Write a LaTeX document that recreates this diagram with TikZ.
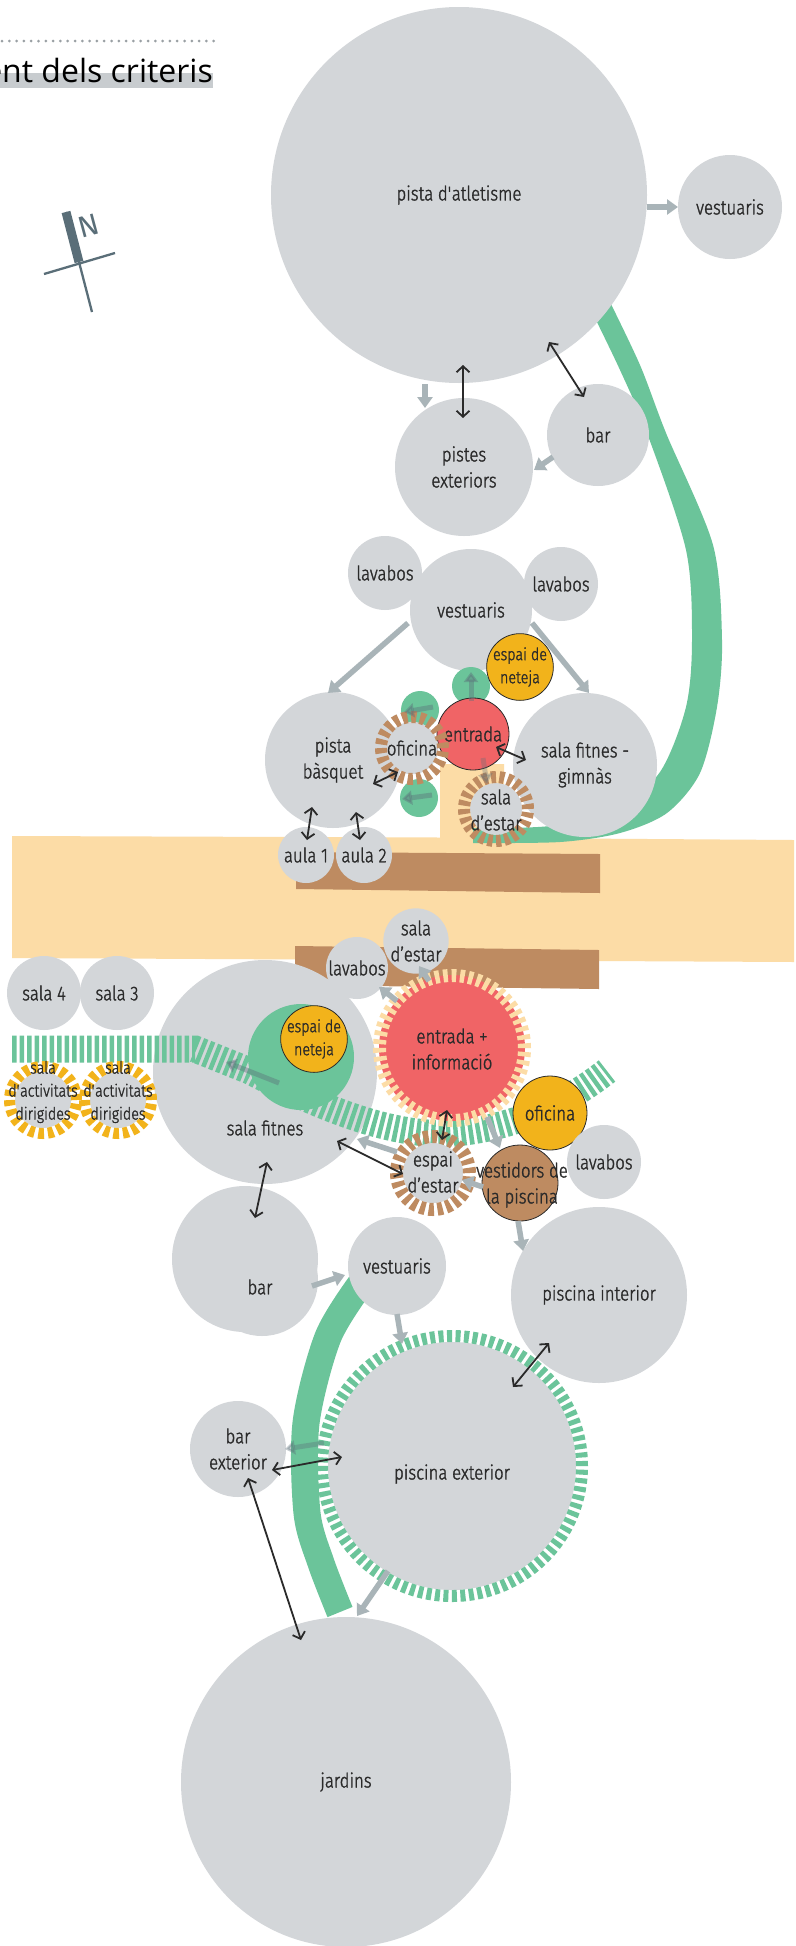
\documentclass[tikz,border=0pt]{standalone}
\usepackage{fontspec}
\setmainfont{Fira Sans Light}[FakeStretch=0.84, FakeBold=1.5]
\newfontfamily\titlefont{Open Sans}
\newfontfamily\compassfont{Fira Sans}
\usetikzlibrary{arrows.meta}
\definecolor{cgray}{HTML}{D3D6D9}
\definecolor{cgreen}{HTML}{6BC49A}
\definecolor{cred}{HTML}{F06466}
\definecolor{cyellow}{HTML}{F2B31B}
\definecolor{cbrown}{HTML}{BE8B61}
\definecolor{cband}{HTML}{FCDCA6}
\definecolor{carrow}{HTML}{A9B4B8}
\definecolor{ctext}{HTML}{2A2A2A}
\definecolor{cslate}{HTML}{5A6E78}
\definecolor{cbar}{HTML}{C8CCCF}
\definecolor{cdots}{HTML}{9AA0A4}
\newcommand\lbl{\fontsize{20}{26}\selectfont}
\newcommand\smlbl{\fontsize{17}{23}\selectfont}
\begin{document}
\begin{tikzpicture}[x=1pt,y=-1pt,
  lblsty/.style={text=ctext, align=center, font=\lbl, inner sep=0pt},
  room/.style={circle, fill=cgray, inner sep=0pt, minimum size=#1, lblsty},
  bordered/.style={circle, draw=ctext, line width=0.8pt, inner sep=0pt, minimum size=#1, lblsty},
  gcirc/.style={circle, fill=cgreen, inner sep=0pt, minimum size=38pt},
  garrow/.style={draw=carrow, line width=5.5pt, -{Triangle[length=11pt,width=15pt]}},
  darrow/.style={draw=cslate, opacity=0.4, line width=5pt, -{Triangle[length=10pt,width=14pt]}},
  barrow/.style={draw=ctext, line width=1.8pt, {Straight Barb[length=6pt,width=13pt]}-{Straight Barb[length=6pt,width=13pt]}}
]
\useasboundingbox (0,0) rectangle (795,1946);
\fill[white] (0,0) rectangle (795,1946);
\clip (0,0) rectangle (795,1946);

% ---------- title and compass ----------
\fill[cbar] (0,73) rectangle (213,88);
\node[anchor=base east, inner sep=0pt, font=\titlefont\fontsize{32}{38}\selectfont, text=black] (title) at (213,82) {ment dels criteris};
\coordinate (dotl) at (2,41); \coordinate (dotr) at (218,41);
\draw[cdots, line width=3pt, line cap=round, dash pattern=on 0pt off 7.3pt] (dotl) -- (dotr);

\coordinate (cn) at (66,212); \coordinate (cs) at (92,312); \coordinate (cb) at (79,262);
\coordinate (cw) at (44,274); \coordinate (ce) at (115,253);
\draw[cslate, line width=2.3pt] (cn) -- (cs);
\draw[cslate, line width=9pt] (cn) -- (cb);
\draw[cslate, line width=2.3pt] (cw) -- (ce);
\node[rotate=15, text=cslate, inner sep=0pt, font=\compassfont\fontsize{30}{30}\selectfont] (north) at (89,226) {N};

% ---------- circulation band ----------
\fill[cband] (12,836) -- (440,837.5) -- (440,764) -- (504,764) -- (504,838) -- (794,840) -- (794,962) -- (12,958) -- cycle;
\fill[cbrown] (296,852) -- (600,854) -- (600,893) -- (296,889) -- cycle;
\fill[cbrown] (295,946) -- (599,950) -- (599,989) -- (295,985) -- cycle;

% ---------- upper green arc ----------
\fill[cgreen] plot[smooth] coordinates {(608,298) (640,365) (666,433) (713,545) (722,640) (717,707) (700,773) (667,813) (620,833) (560,842) (473,843)}
  -- plot[smooth] coordinates {(473,828) (550,826) (615,810) (660,772) (686,707) (692,640) (686,550) (647,433) (620,370) (592,312)} -- cycle;

% ---------- upper rooms ----------
\node[room=376pt] (atl) at (459,195) {pista d\textquotesingle atletisme};
\node[room=104pt] (vest1) at (730,207) {vestuaris};
\node[room=138pt] (pext) at (464,467) {pistes\\exteriors};
\node[room=102pt] (bar1) at (598,435) {bar};

\node[room=74pt] (lav1) at (385,573) {lavabos};
\node[room=74pt] (lav2) at (561,584) {lavabos};
\node[room=122pt] (vest2) at (471,610) {vestuaris};
\node[room=136pt] (basq) at (333,760) {pista\\bàsquet};
\node[room=144pt] (fitg) at (585,765) {sala fitnes -\\gimnàs};
\node[room=56pt] (aula1) at (306,855) {aula 1};
\node[room=56pt] (aula2) at (364,855) {aula 2};

\node[gcirc] (gc1) at (471,686) {};
\node[gcirc] (gc2) at (420,710) {};
\node[gcirc] (gc3) at (419,798) {};
\node[bordered=72pt, fill=cred] (ent1) at (473,734) {entrada};
\node[bordered=56pt, fill=cyellow, font=\smlbl] (net1) at (520,667) {espai de\\neteja};
\node[room=50pt] (ofi1) at (412,748) {oficina};
\draw[cbrown, line width=12pt, dash pattern=on 5.3pt off 3.555pt] (ofi1.center) circle[radius=31pt];
\node[room=52pt] (sde1) at (496,809) {};
\draw[cbrown, line width=12pt, dash pattern=on 5pt off 3.378pt] (sde1.center) circle[radius=32pt];
\node[lblsty] (sde1t) at (496,810) {sala\\d’estar};

% ---------- lower rooms ----------
\node[room=62pt] (sde2) at (416,941) {sala\\d’estar};
\node[room=62pt] (lav3) at (357,968) {lavabos};
\node[room=74pt] (s4) at (44,993) {sala 4};
\node[room=74pt] (s3) at (117,993) {sala 3};
\node[room=224pt] (fit2) at (265,1072) {};

\draw[cgreen, line width=27pt, dash pattern=on 4.5pt off 3pt] (12,1049) -- (195,1049) -- (250,1071)
  .. controls (320,1108) and (395,1138) .. (455,1133) .. controls (520,1127) and (570,1100) .. (607,1071);

\node[circle, fill=cgreen, inner sep=0pt, minimum size=106pt] (esp) at (301,1057) {};
\node[bordered=56pt, fill=cyellow, font=\smlbl] (net2) at (314,1039) {espai de\\neteja};
\node[lblsty] (fit2t) at (265,1128) {sala fitnes};

\node[room=56pt] (act1) at (43,1100) {};
\draw[cyellow, line width=11pt, dash pattern=on 5.7pt off 3.87pt] (act1.center) circle[radius=33.5pt];
\node[room=56pt] (act2) at (118,1100) {};
\draw[cyellow, line width=11pt, dash pattern=on 5.7pt off 3.87pt] (act2.center) circle[radius=33.5pt];
\node[lblsty, font=\smlbl] (act1t) at (43,1092) {sala\\d\textquotesingle activitats\\dirigides};
\node[lblsty, font=\smlbl] (act2t) at (118,1092) {sala\\d\textquotesingle activitats\\dirigides};

\node[circle, fill=cred, inner sep=0pt, minimum size=146pt] (ent2) at (452,1048) {};
\draw[cband, line width=13pt, dash pattern=on 4.6pt off 3.835pt] (ent2.center) circle[radius=72.5pt];
\node[lblsty] (ent2t) at (452,1049) {entrada +\\informació};

\node[bordered=74pt, fill=cyellow] (ofi2) at (550,1113) {oficina};
\node[room=74pt] (lav4) at (604,1162) {lavabos};
\node[bordered=76pt, fill=cbrown] (vpis) at (520,1183) {};
\node[room=60pt] (est2) at (433,1173) {};
\draw[cbrown, line width=13pt, dash pattern=on 5.3pt off 3.52pt] (est2.center) circle[radius=36.5pt];
\node[lblsty] (est2t) at (433,1172) {espai\\d’estar};
\node[lblsty] (vpist) at (522,1185) {vestidors de\\la piscina};

% lower section
\draw[cgreen, line width=27pt] plot[smooth] coordinates {(362,1282) (328,1337) (306,1423) (307,1513) (321,1563) (340,1612)};
\node[room=146pt] (bar2) at (245,1259) {};
\node[circle, fill=cgray, inner sep=0pt, minimum size=112pt] (bar2b) at (262,1280) {};
\node[lblsty] (bar2t) at (260,1287) {bar};
\node[room=98pt] (vest3) at (397,1266) {vestuaris};
\node[room=176pt] (pint) at (599,1295) {piscina interior};
\node[circle, fill=cgray, inner sep=0pt, minimum size=248pt] (pisx) at (452,1466) {};
\draw[cgreen, line width=12pt, dash pattern=on 5pt off 3.508pt] (pisx.center) circle[radius=130pt];
\node[lblsty] (pisxt) at (452,1474) {piscina exterior};
\node[room=96pt] (barx) at (238,1449) {bar\\exterior};
\node[room=330pt] (jard) at (346,1782) {jardins};

% ---------- black two-way links ----------
\coordinate (k1a) at (463,365); \coordinate (k1b) at (463,418);
\coordinate (k2a) at (549,342); \coordinate (k2b) at (584,397);
\coordinate (k3a) at (312,807); \coordinate (k3b) at (307,840);
\coordinate (k4a) at (356,812); \coordinate (k4b) at (360,840);
\coordinate (k5a) at (398,772); \coordinate (k5b) at (373,784);
\coordinate (k6a) at (496,747); \coordinate (k6b) at (526,760);
\coordinate (k7a) at (447,1110); \coordinate (k7b) at (442,1140);
\coordinate (k8a) at (337,1141); \coordinate (k8b) at (403,1174);
\coordinate (k9a) at (267,1162); \coordinate (k9b) at (255,1218);
\coordinate (k10a) at (513,1387); \coordinate (k10b) at (549,1343);
\coordinate (k11a) at (272,1470); \coordinate (k11b) at (342,1457);
\coordinate (k12a) at (248,1478); \coordinate (k12b) at (301,1640);
\foreach \i in {1,...,12} {\draw[barrow] (k\i a) -- (k\i b);}

% ---------- grey one-way links ----------
\coordinate (g1a) at (647,207); \coordinate (g1b) at (678,207);
\coordinate (g2a) at (425,384); \coordinate (g2b) at (425,408);
\coordinate (g3a) at (553,457); \coordinate (g3b) at (534,470);
\coordinate (g4a) at (408,623); \coordinate (g4b) at (328,693);
\coordinate (g5a) at (532,623); \coordinate (g5b) at (589,693);
\coordinate (g7a) at (397,1001); \coordinate (g7b) at (379,987);
\coordinate (g8a) at (429,981); \coordinate (g8b) at (419,966);
\coordinate (g9a) at (397,1152); \coordinate (g9b) at (357,1139);
\coordinate (g10a) at (483,1187); \coordinate (g10b) at (462,1180);
\coordinate (g11a) at (487,1117); \coordinate (g11b) at (500,1148);
\coordinate (g12a) at (518,1221); \coordinate (g12b) at (523,1251);
\coordinate (g13a) at (312,1286); \coordinate (g13b) at (345,1275);
\coordinate (g14a) at (397,1314); \coordinate (g14b) at (402,1344);
\coordinate (g16a) at (388,1571); \coordinate (g16b) at (357,1616);
\foreach \i in {1,2,3,4,5,7,8,9,10,11,12,13,14,16} {\draw[garrow] (g\i a) -- (g\i b);}

\coordinate (g6a) at (483,758); \coordinate (g6b) at (487,784);
\draw[darrow, opacity=0.3] (g6a) -- (g6b);
\coordinate (g15a) at (324,1443); \coordinate (g15b) at (285,1449);
\draw[darrow, opacity=0.35] (g15a) -- (g15b);
\coordinate (d1a) at (471,701); \coordinate (d1b) at (471,672);
\coordinate (d2a) at (433,707); \coordinate (d2b) at (404,712);
\coordinate (d3a) at (432,795); \coordinate (d3b) at (402,799);
\coordinate (d4a) at (279,1083); \coordinate (d4b) at (226,1062);
\foreach \i in {1,2,3,4} {\draw[darrow] (d\i a) -- (d\i b);}
\end{tikzpicture}
\end{document}
